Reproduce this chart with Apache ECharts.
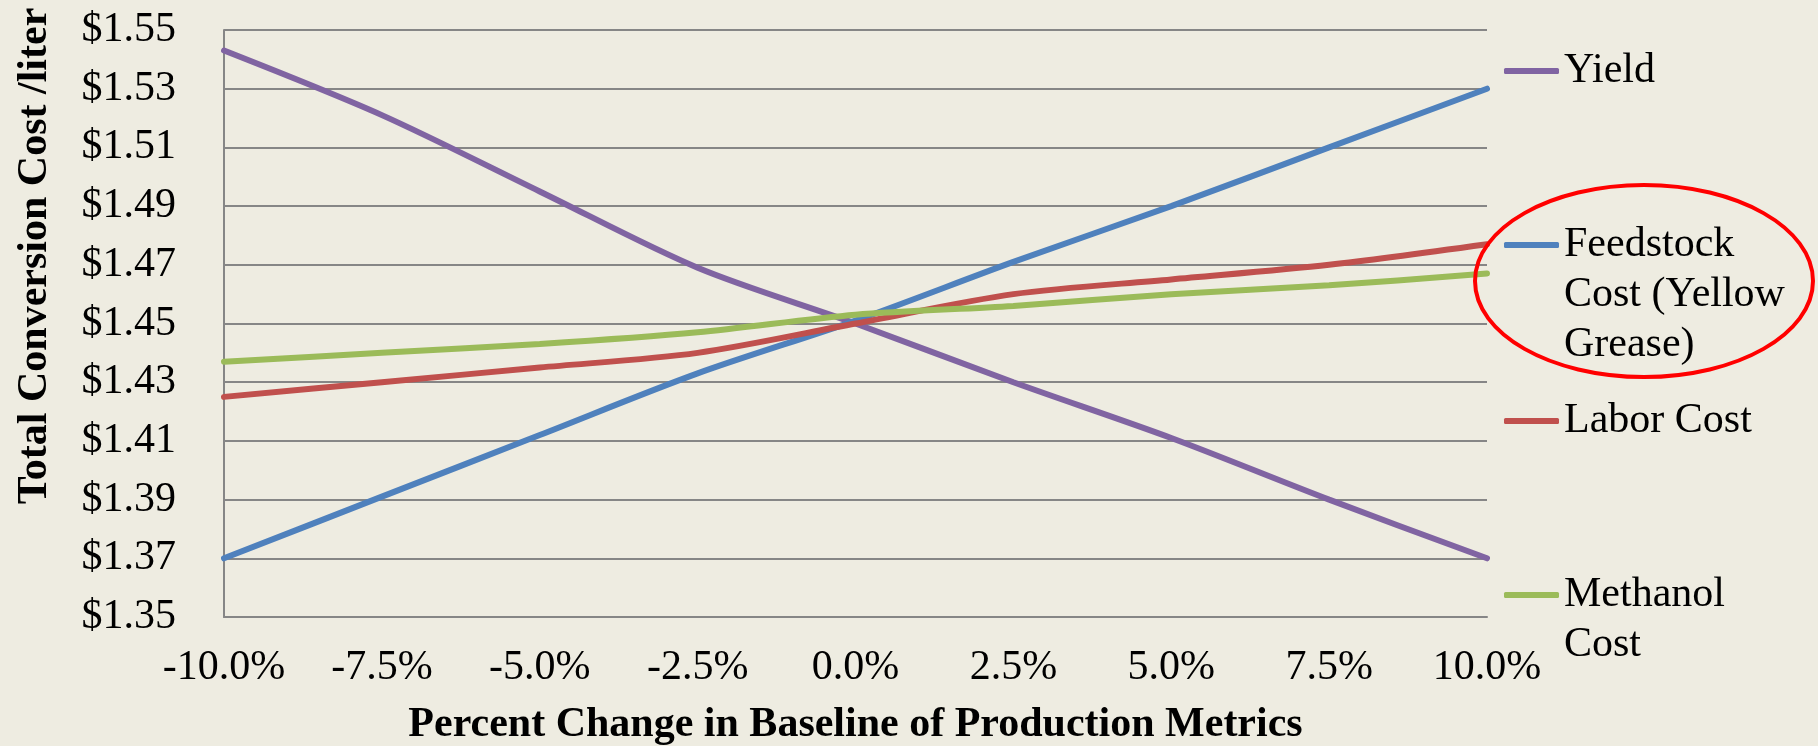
<!DOCTYPE html>
<html>
<head>
<meta charset="utf-8">
<script src="https://cdn.jsdelivr.net/npm/echarts@6/dist/echarts.min.js"></script>
<style>
  html, body { margin: 0; padding: 0; background: #EEECE1; }
  #chart { width: 1818px; height: 746px; }
</style>
</head>
<body>
<div id="chart"></div>
<script>
// Sensitivity of total conversion cost to each production metric
const categories = ['-10.0%', '-7.5%', '-5.0%', '-2.5%', '0.0%', '2.5%', '5.0%', '7.5%', '10.0%'];

const yieldCost     = [1.543, 1.521, 1.495, 1.469, 1.450, 1.430, 1.411, 1.390, 1.370];
const feedstockCost = [1.370, 1.391, 1.412, 1.433, 1.451, 1.471, 1.490, 1.510, 1.530];
const laborCost     = [1.425, 1.430, 1.435, 1.440, 1.450, 1.460, 1.465, 1.470, 1.477];
const methanolCost  = [1.437, 1.440, 1.443, 1.447, 1.453, 1.456, 1.460, 1.463, 1.467];

const seriesNames = ['Yield', 'Feedstock Cost (Yellow Grease)', 'Labor Cost', 'Methanol Cost'];
const yTicks = { min: 1.35, max: 1.55, step: 0.02 };

const FONT = '"Liberation Serif", "Times New Roman", serif';
const colors = ['#8064A2', '#4F81BD', '#C0504D', '#9BBB59'];
const values = [yieldCost, feedstockCost, laborCost, methanolCost];

// Legend entries are placed one by one beside the plot; blank lines keep
// each icon level with the first line of its (possibly wrapped) label.
const legendSpec = [
  { name: seriesNames[0], top: 46, text: 'Yield' },
  { name: seriesNames[1], top: 120, text: '\n\nFeedstock\nCost (Yellow\nGrease)' },
  { name: seriesNames[2], top: 396, text: 'Labor Cost' },
  { name: seriesNames[3], top: 520, text: '\nMethanol\nCost' }
];

const chart = echarts.init(document.getElementById('chart'), null, { renderer: 'canvas' });

chart.setOption({
  backgroundColor: '#EEECE1',
  animation: false,
  color: colors,
  grid: { left: 224, right: 331, top: 30, bottom: 129, containLabel: false, outerBoundsMode: 'none' },
  legend: legendSpec.map(l => ({
    data: [l.name],
    left: 1504,
    top: l.top,
    padding: 0,
    icon: 'roundRect',
    itemWidth: 55,
    itemHeight: 6,
    itemGap: 0,
    formatter: () => l.text,
    textStyle: { fontFamily: FONT, fontSize: 42, lineHeight: 50, color: '#000' }
  })),
  xAxis: {
    type: 'category',
    data: categories,
    boundaryGap: false,
    axisLine: { show: true, lineStyle: { color: '#868686', width: 2 } },
    axisTick: { show: false },
    axisLabel: { fontFamily: FONT, fontSize: 42, color: '#000', margin: 30, interval: 0 },
    splitLine: { show: false },
    name: 'Percent Change in Baseline of Production Metrics',
    nameLocation: 'middle',
    nameGap: 84,
    nameTextStyle: { fontFamily: FONT, fontSize: 42, fontWeight: 'bold', color: '#000', lineHeight: 48 }
  },
  yAxis: {
    type: 'value',
    min: yTicks.min,
    max: yTicks.max,
    interval: yTicks.step,
    axisLine: { show: true, lineStyle: { color: '#868686', width: 2 } },
    axisTick: { show: false },
    axisLabel: {
      fontFamily: FONT, fontSize: 42, color: '#000', margin: 48,
      formatter: v => '$' + v.toFixed(2)
    },
    splitLine: { show: true, lineStyle: { color: '#868686', width: 2 } }
  },
  graphic: [
    {
      type: 'text',
      x: 35, y: 256,
      rotation: Math.PI / 2,
      style: {
        text: 'Total Conversion Cost /liter',
        font: 'bold 42px ' + FONT,
        fill: '#000',
        align: 'center',
        verticalAlign: 'middle'
      }
    },
    {
      type: 'ellipse',
      shape: { cx: 1644, cy: 281, rx: 169, ry: 96 },
      style: { fill: 'none', stroke: '#FF0000', lineWidth: 4 },
      z: 100
    }
  ],
  series: seriesNames.map((name, i) => ({
    name,
    type: 'line',
    data: values[i],
    smooth: 0.3,
    symbol: 'none',
    lineStyle: { width: 6, color: colors[i], cap: 'round' },
    itemStyle: { color: colors[i] }
  }))
});
</script>
</body>
</html>
